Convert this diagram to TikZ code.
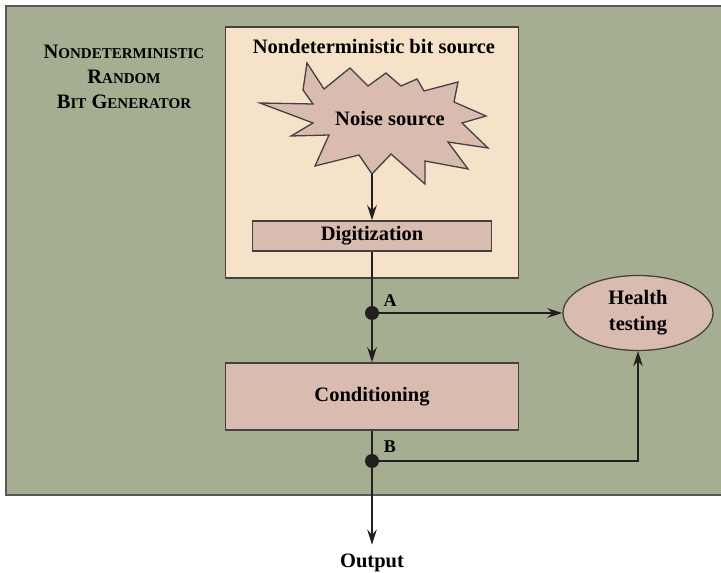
\documentclass[tikz,border=0pt]{standalone}
\usepackage{fontspec}
\setmainfont{Liberation Serif}
\usetikzlibrary{arrows.meta,shapes.geometric}
\definecolor{sage}{RGB}{166,174,146}
\definecolor{cream}{RGB}{245,226,201}
\definecolor{rose}{RGB}{218,187,176}
\definecolor{ink}{RGB}{35,31,32}
\newcommand\capsword[2]{#1{\fontsize{15}{15}\selectfont#2}}
\begin{document}
\begin{tikzpicture}[x=10pt,y=10pt,font=\fontsize{20.5}{25}\selectfont\bfseries,
 box/.style={draw=ink!85,line width=1.3pt,fill=rose,inner sep=0pt},
 wire/.style={ink,line width=2.4pt},
 flow/.style={wire,-{Stealth[length=15pt,width=9.5pt,inset=5pt]}}]
\useasboundingbox (0,0) rectangle (72.1,57.3);
\draw[fill=sage,draw=ink!75,line width=2pt] (.6,7.8) rectangle (74,56.7);
\draw[fill=cream,draw=ink!85,line width=1.3pt] (22.55,29.5) rectangle (51.85,54.6);
\node[align=center] (nrbg) at (12.4,49.6) {\capsword{N}{ONDETERMINISTIC}\\\capsword{R}{ANDOM}\\\capsword{B}{IT} \capsword{G}{ENERATOR}};
\node (bitsrc) at (37.4,52.6) {Nondeterministic bit source};
\draw[box,line join=miter] (26.0,47.0) -- (31.3,46.9) -- (30.3,48.3) -- (30.7,51.0) -- (32.4,48.4) -- (35.0,50.5) -- (36.8,48.7) -- (38.6,50.0) -- (40.1,48.7) -- (41.7,49.4) -- (42.4,48.2) -- (45.8,49.1) -- (45.4,47.1) -- (48.6,45.7) -- (46.2,45.0) -- (48.8,42.5) -- (44.8,43.1) -- (46.8,40.4) -- (42.5,41.2) -- (42.5,38.9) -- (39.1,41.9) -- (37.2,39.9) -- (35.9,41.8) -- (31.5,40.7) -- (32.9,43.8) -- (29.1,43.7) -- (31.3,45.0) -- cycle;
\node (noise) at (39.0,45.4) {Noise source};
\coordinate (burst) at (37.2,39.9);
\node[box,minimum width=239pt,minimum height=30pt] (dig) at (37.2,33.7) {Digitization};
\node[box,minimum width=293pt,minimum height=67pt] (cond) at (37.2,17.65) {Conditioning};
\node[box,ellipse,minimum width=150pt,minimum height=75pt,align=center,font=\fontsize{20.5}{26}\selectfont\bfseries] (health) at (63.8,26) {Health\\testing};
\node (out) at (37.2,.98) {Output};
\coordinate (A) at (37.2,26);\coordinate (B) at (37.2,11.2);
\node[font=\fontsize{18}{18}\selectfont\bfseries] (lblA) at (39.0,27.2) {A};
\node[font=\fontsize{18}{18}\selectfont\bfseries] (lblB) at (39.0,12.65) {B};
\draw[flow] (burst) -- (dig);
\draw[wire] (dig) -- (A);
\draw[flow] (A) -- (cond);
\draw[flow] (A) -- (health);
\draw[wire] (cond) -- (B);
\draw[flow] (B) -| (health);
\draw[flow,shorten >=6pt] (B) -- (out);
\fill[ink] (A) circle (7pt);\fill[ink] (B) circle (7pt);
\end{tikzpicture}
\end{document}
